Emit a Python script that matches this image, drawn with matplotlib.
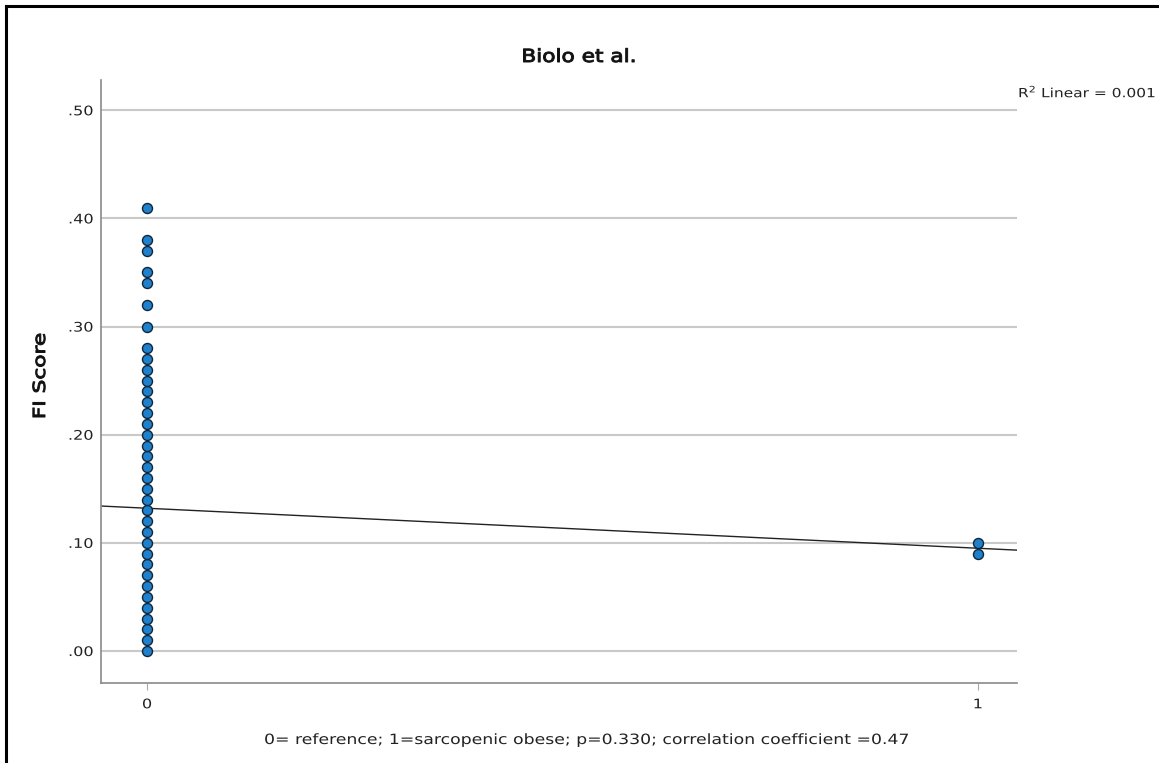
import matplotlib
matplotlib.use("Agg")
import matplotlib.pyplot as plt
import numpy as np
from matplotlib.lines import Line2D
from matplotlib.patheffects import AbstractPathEffect
from matplotlib.transforms import Affine2D

# Data
group0_values = [0.00, 0.01, 0.02, 0.03, 0.04, 0.05, 0.06, 0.07, 0.08, 0.09,
                 0.10, 0.11, 0.12, 0.13, 0.14, 0.15, 0.16, 0.17, 0.18, 0.19,
                 0.20, 0.21, 0.22, 0.23, 0.24, 0.25, 0.26, 0.27, 0.28,
                 0.30, 0.32, 0.34, 0.35, 0.37, 0.38, 0.41]
group1_values = [0.09, 0.10]
fit_intercept = 0.132
fit_slope = -0.037
x_ticks = [0, 1]
x_tick_labels = ["0", "1"]
y_ticks = [0.0, 0.1, 0.2, 0.3, 0.4, 0.5]
y_tick_labels = [".00", ".10", ".20", ".30", ".40", ".50"]


class Stretch(AbstractPathEffect):
    """Widen glyphs along the text baseline (the reference font is wider),
    optionally thickening strokes a little (medium weight)."""
    def __init__(self, sx, anchor="center", stroke=0.0):
        super().__init__()
        self.sx = sx
        self.anchor = anchor
        self.stroke = stroke

    def draw_path(self, renderer, gc, tpath, affine, rgbFace=None):
        ext = tpath.get_extents()
        if self.anchor == "center":
            c = (ext.x0 + ext.x1) / 2
        elif self.anchor == "right":
            c = ext.x1
        else:
            c = 0.0
        pre = Affine2D().translate(-c, 0).scale(self.sx, 1).translate(c, 0)
        if self.stroke > 0 and rgbFace is not None:
            gc0 = renderer.new_gc()
            gc0.copy_properties(gc)
            gc0.set_foreground(rgbFace)
            gc0.set_linewidth(self.stroke)
            renderer.draw_path(gc0, tpath, pre + affine, rgbFace)
            gc0.restore()
        else:
            renderer.draw_path(gc, tpath, pre + affine, rgbFace)


W, H = 1159, 763
fig = plt.figure(figsize=(W / 100, H / 100), dpi=100)
fig.patch.set_facecolor("white")

ax = fig.add_axes([101 / W, 1 - 683 / H, (1017 - 101) / W, (683 - 80) / H])
xlim = (-0.0554, 1.047)
ax.set_xlim(*xlim)
ax.set_ylim(-0.0296, 0.528)

for y in y_ticks:
    ax.axhline(y, color="#c9c9c9", lw=1.5, zorder=0)

xs = np.array(xlim)
ax.plot(xs, fit_intercept + fit_slope * xs, color="#222222", lw=1.0, zorder=2)

ax.scatter([0] * len(group0_values), group0_values, s=52, facecolor="#1f80cc",
           edgecolor="#10263a", linewidths=1.0, zorder=3)
ax.scatter([1] * len(group1_values), group1_values, s=52, facecolor="#1f80cc",
           edgecolor="#10263a", linewidths=1.0, zorder=3)

for s in ["top", "right"]:
    ax.spines[s].set_visible(False)
for s in ["left", "bottom"]:
    ax.spines[s].set_color("#8a8a8a")
    ax.spines[s].set_linewidth(1.2)

ax.set_xticks(x_ticks)
ax.set_xticklabels(x_tick_labels)
ax.set_yticks(y_ticks)
ax.set_yticklabels(y_tick_labels)
ax.tick_params(axis="x", length=5, color="#aaaaaa", labelsize=9.5, labelcolor="#222222", pad=6)
ax.tick_params(axis="y", length=0, labelsize=9.5, labelcolor="#222222", pad=5.5)

SX = 1.22
for lbl in ax.get_yticklabels():
    lbl.set_path_effects([Stretch(SX, "right")])
for lbl in ax.get_xticklabels():
    lbl.set_path_effects([Stretch(SX, "center")])

fig.text(579 / W, 1 - 57 / H, "Biolo et al.", ha="center", va="center", fontsize=13,
         color="#111111", path_effects=[Stretch(1.2, "center", stroke=0.7)])
fig.text(40 / W, 1 - 376 / H, "FI Score", ha="center", va="center", rotation=90,
         fontsize=12, color="#111111",
         path_effects=[Stretch(1.3, "center", stroke=0.7)])
fig.text(587 / W, 1 - 740 / H,
         "0= reference; 1=sarcopenic obese; p=0.330; correlation coefficient =0.47",
         ha="center", va="center", fontsize=10.2, color="#222222",
         path_effects=[Stretch(SX, "center")])
fig.text(1018 / W, 1 - 92 / H, r"R$^2$ Linear = 0.001", ha="left", va="center",
         fontsize=9.1, color="#222222", path_effects=[Stretch(SX, "left")])

# frame lines (top and left)
fig.add_artist(Line2D([5.5 / W, 1.0], [1 - 5.5 / H, 1 - 5.5 / H], color="black", lw=2.2))
fig.add_artist(Line2D([5.5 / W, 5.5 / W], [1 - 5.5 / H, 0.0], color="black", lw=2.2))

fig.savefig("out.png", dpi=100)
